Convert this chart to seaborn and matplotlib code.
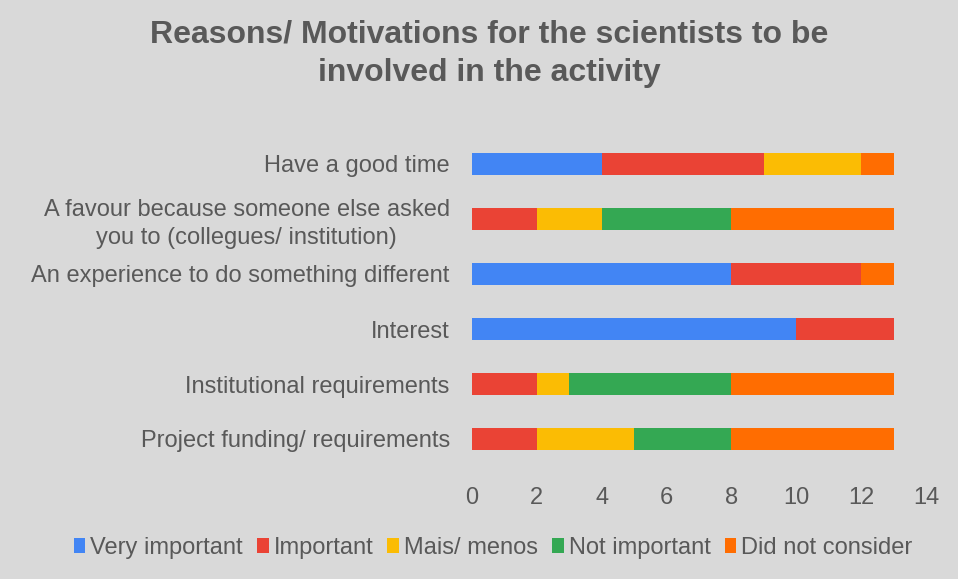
import matplotlib
matplotlib.use("Agg")
import matplotlib.pyplot as plt
import seaborn as sns
import pandas as pd
import numpy as np
from matplotlib.patches import Patch

categories = [
    "Have a good time",
    "A favour because someone else asked\nyou to (collegues/ institution)",
    "An experience to do something different",
    "Interest",
    "Institutional requirements",
    "Project funding/ requirements",
]
series_names = ["Very important", "Important", "Mais/ menos", "Not important", "Did not consider"]
very_important = [4, 0, 8, 10, 0, 0]
important = [5, 2, 4, 3, 2, 2]
mais_menos = [3, 2, 0, 0, 1, 3]
not_important = [0, 4, 0, 0, 5, 3]
did_not_consider = [1, 5, 1, 0, 5, 5]
x_ticks = [0, 2, 4, 6, 8, 10, 12, 14]

colors = ["#4285F4", "#EA4335", "#FBBC04", "#34A853", "#FF6D01"]
bg = "#D9D9D9"
text_color = "#595959"

sns.set_theme(style="white")
plt.rcParams["font.family"] = ["Liberation Sans", "DejaVu Sans"]

values = np.array([very_important, important, mais_menos, not_important, did_not_consider])
cumulative = np.cumsum(values, axis=0)

fig = plt.figure(figsize=(9.58, 5.79), dpi=100, facecolor=bg)
ax = fig.add_axes([472 / 958, 1 - 466.5 / 579, (926 - 472) / 958, (466.5 - 136.5) / 579])
ax.set_facecolor(bg)

# Stack by drawing running totals from the outermost segment inward
for i in range(len(series_names) - 1, -1, -1):
    df = pd.DataFrame({"category": categories, "total": cumulative[i]})
    sns.barplot(data=df, x="total", y="category", orient="h", color=colors[i],
                saturation=1, width=0.4, ax=ax, linewidth=0)

ax.set_xlim(0, 14)
ax.set_ylim(5.5, -0.5)
ax.set_xticks(x_ticks)
ax.set_xticklabels([str(t) for t in x_ticks])
ax.set_xlabel("")
ax.set_ylabel("")
ax.tick_params(axis="both", length=0, labelsize=17, labelcolor=text_color)
ax.tick_params(axis="y", pad=16)
ax.tick_params(axis="x", pad=15)
for lbl in ax.get_yticklabels():
    lbl.set_multialignment("center")
    lbl.set_linespacing(1.3)
for s in ax.spines.values():
    s.set_visible(False)
ax.grid(False)

fig.text(489 / 958, 1 - 54 / 579,
         "Reasons/ Motivations for the scientists to be\ninvolved in the activity",
         ha="center", va="center", fontsize=23, fontweight="bold",
         color=text_color, linespacing=1.38)

handles = [Patch(facecolor=c, edgecolor="none") for c in colors]
fig.legend(handles, series_names, loc="center", bbox_to_anchor=(493 / 958, 1 - 548 / 579),
           ncol=5, frameon=False, fontsize=17, labelcolor=text_color,
           handlelength=0.5, handleheight=0.6, handletextpad=0.2, columnspacing=0.6)

fig.savefig("out.png", dpi=100, facecolor=bg)
